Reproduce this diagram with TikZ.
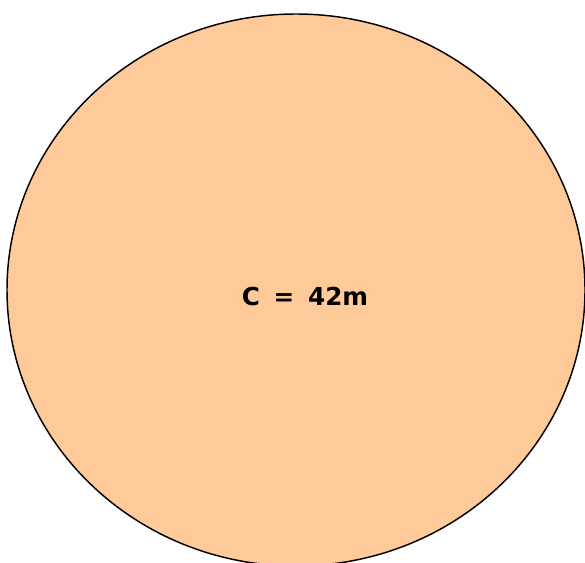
\documentclass[tikz,border=0pt]{standalone}
\usepackage{fontspec}
\setmainfont{DejaVu Sans}[WordSpace=1.6]
\usepackage{tikz}
\definecolor{fillColor}{HTML}{FFCA99}

\begin{document}
\begin{tikzpicture}[x=0.75pt, y=-0.75pt]
    \useasboundingbox (0,0) rectangle (585,563);
    \begin{scope}
        \clip (0,0) rectangle (585,563);
        \draw[fill=fillColor, line width=1.1pt] (296,290) ellipse (289 and 276);
    \end{scope}
    \node[font=\fontsize{18.5}{22}\selectfont\bfseries] (len) at (305,297) {C = 42m};
\end{tikzpicture}
\end{document}
